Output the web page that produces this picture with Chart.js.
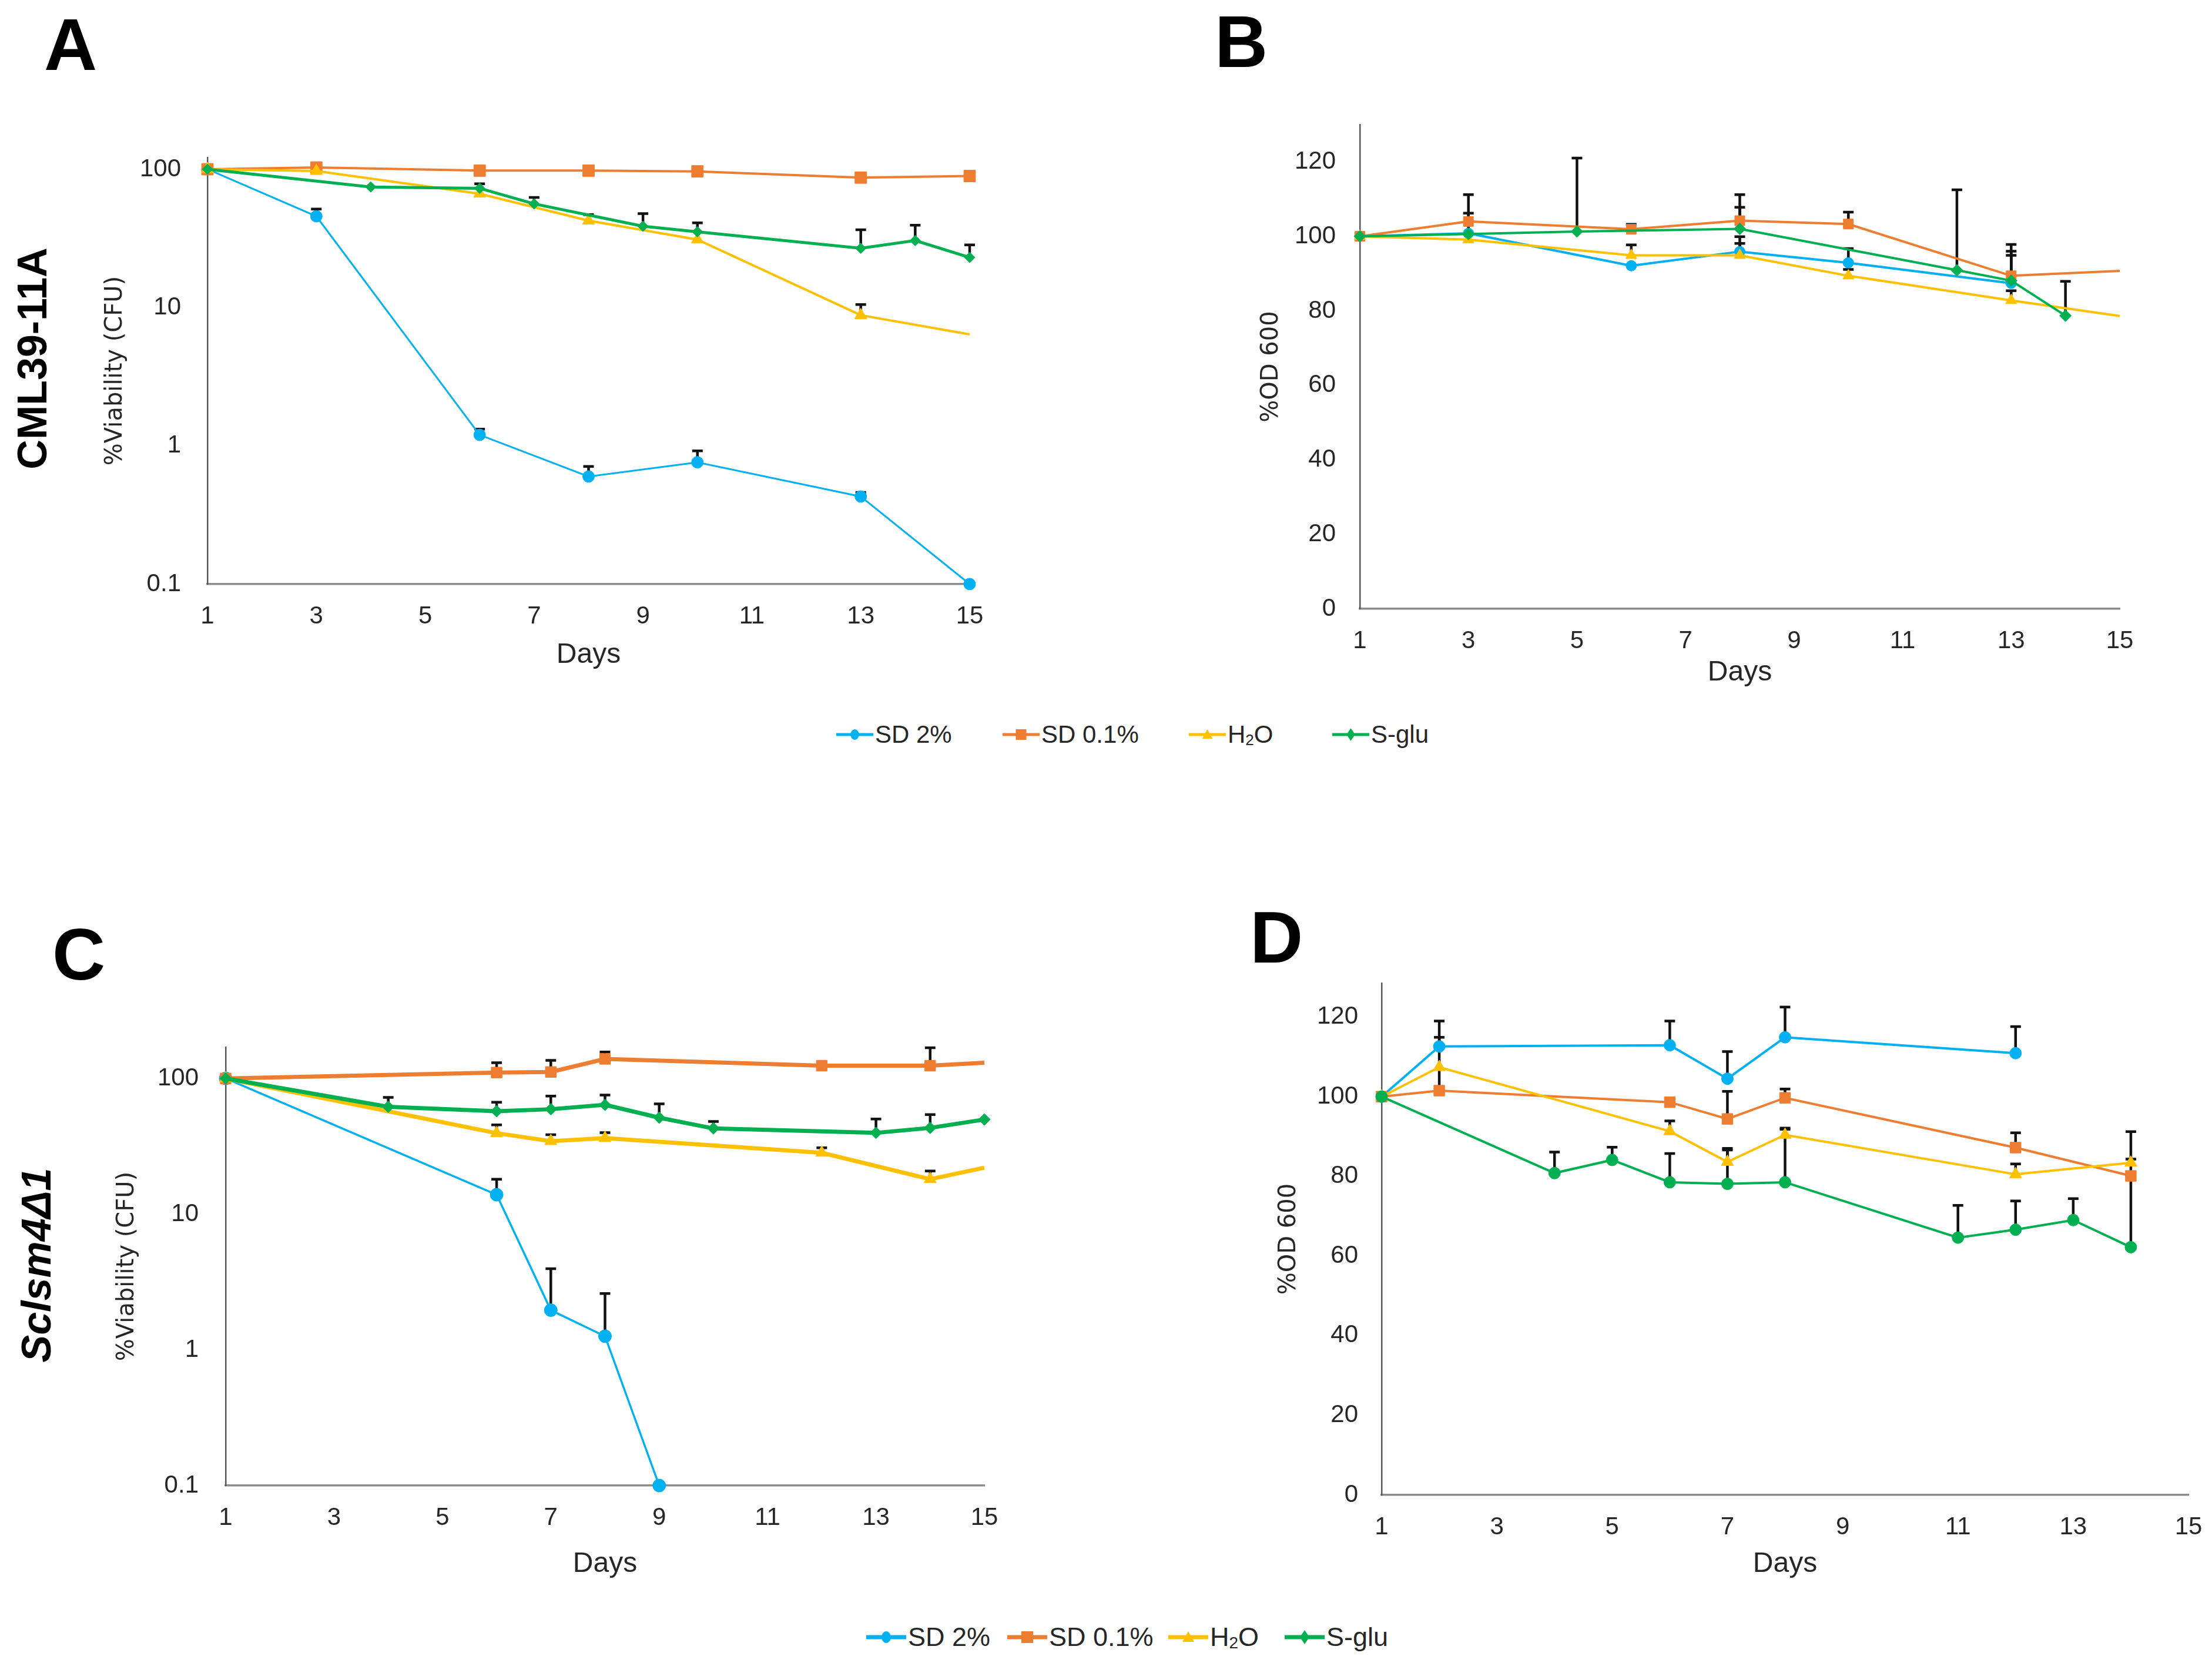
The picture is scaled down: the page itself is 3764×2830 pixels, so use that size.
<!DOCTYPE html>
<html lang="en">
<head>
<meta charset="UTF-8">
<title>Viability and OD600 over time</title>
<script src="https://cdn.jsdelivr.net/npm/chart.js@4.4.1/dist/chart.umd.min.js"></script>
<style>
  body {
    margin: 0;
    width: 3764px;
    height: 2830px;
    position: relative;
    overflow: hidden;
    background: #fff;
    color: #262626;
    font-family: 'Liberation Sans Narrow', 'Liberation Sans', Arial, sans-serif;
  }
  canvas { position: absolute; }
  .letter {
    position: absolute;
    font-family: 'Liberation Sans', Arial, sans-serif;
    font-weight: bold;
    font-size: 125px;
    line-height: 1;
    color: #000;
  }
  .rowlabel {
    position: absolute;
    font-family: 'Liberation Sans', Arial, sans-serif;
    font-weight: bold;
    font-size: 70px;
    line-height: 1;
    white-space: nowrap;
    color: #000;
    transform: translate(-50%, -50%) rotate(-90deg);
  }
  .legend-item {
    position: absolute;
    display: flex;
    align-items: center;
    white-space: nowrap;
  }
  .legend-item svg { display: block; }
  .legend-item span { margin-left: 3px; }
  sub { font-size: 62%; vertical-align: -0.15em; }
</style>
</head>
<body>

<div class="letter" style="left:75px; top:13px;">A</div>
<div class="letter" style="left:2067px; top:8px;">B</div>
<div class="letter" style="left:89px; top:1561px;">C</div>
<div class="letter" style="left:2127px; top:1532px;">D</div>

<div class="rowlabel" style="left:55px; top:610px;">CML39-11A</div>
<div class="rowlabel" style="left:62px; top:2153px; font-style:italic;">Sclsm4Δ1</div>

<div id="legends"></div>

<script>
// ---- axis ticks ----
const DAY_TICKS = [1, 3, 5, 7, 9, 11, 13, 15];
const LOG_TICKS = [0.1, 1, 10, 100];
const OD_TICKS = [0, 20, 40, 60, 80, 100, 120];
const LABELS = ['SD 2%', 'SD 0.1%', 'H₂O', 'S-glu'];

// ---- panel A: CML39-11A, %Viability (CFU) ----
const daysA_sd2 = [1, 3, 6, 8, 10, 13, 15];
const valsA_sd2 = [100, 45.7, 1.2, 0.6, 0.76, 0.43, 0.1];
const errA_sd2  = [0, 5.8, 0.12, 0.11, 0.16, 0.03, 0];
const daysA_sd01 = [1, 3, 6, 8, 10, 13, 15];
const valsA_sd01 = [100, 103, 97.7, 97.7, 96.5, 87, 89.3];
const errA_sd01  = [0, 0, 0, 0, 0, 0, 0];
const daysA_h2o = [1, 3, 6, 8, 10, 13, 15];
const valsA_h2o = [100, 97, 66.5, 42.5, 31, 8.8, 6.4];
const errA_h2o  = [0, 0, 0, 4.5, 0, 1.7, 0];
const daysA_sglu = [1, 4, 6, 7, 9, 10, 13, 14, 15];
const valsA_sglu = [100, 74.4, 72.8, 56.2, 38.7, 35.3, 26.8, 30.5, 23];
const errA_sglu  = [0, 0, 5.6, 6.3, 9.1, 5.6, 9.7, 8.9, 5.4];

// ---- panel B: CML39-11A, %OD 600 ----
const daysB_sd2 = [1, 3, 6, 8, 10, 13];
const valsB_sd2 = [100, 100.8, 92.1, 95.9, 92.9, 87.4];
const errB_sd2  = [0, 0, 0, 4.0, 3.8, 7.5];
const daysB_sd01 = [1, 3, 6, 8, 10, 13, 15];
const valsB_sd01 = [100, 104, 101.9, 104.2, 103.3, 89.4, 90.7];
const errB_sd01  = [0, 7.2, 1.3, 7.0, 3.2, 8.4, 0];
const daysB_h2o = [1, 3, 6, 8, 10, 13, 15];
const valsB_h2o = [100, 99.1, 94.9, 94.9, 89.4, 82.8, 78.6];
const errB_h2o  = [0, 0, 2.8, 3.2, 1.7, 2.6, 0];
const daysB_sglu = [1, 3, 5, 8, 12, 13, 14];
const valsB_sglu = [100, 100.6, 101.3, 102, 90.9, 88.1, 78.7];
const errB_sglu  = [0, 5.6, 19.7, 5.8, 21.6, 7.9, 9.2];

// ---- panel C: Sclsm4Δ1, %Viability (CFU) ----
const daysC_sd2 = [1, 6, 7, 8, 9];
const valsC_sd2 = [100, 13.9, 1.96, 1.26, 0.1];
const errC_sd2  = [0, 4.2, 2.0, 1.34, 0];
const daysC_sd01 = [1, 6, 7, 8, 12, 14, 15];
const valsC_sd01 = [100, 110.5, 111.6, 139.3, 124.2, 124.2, 130.4];
const errC_sd01  = [0, 19.9, 24.2, 17.3, 0, 44.3, 0];
const daysC_h2o = [1, 6, 7, 8, 12, 14, 15];
const valsC_h2o = [100, 39.5, 34.5, 36.3, 28.3, 18.1, 22.0];
const errC_h2o  = [0, 6.0, 4.0, 3.5, 2.5, 2.7, 0];
const daysC_sglu = [1, 4, 6, 7, 8, 9, 10, 13, 14, 15];
const valsC_sglu = [100, 61.8, 57.4, 59.3, 63.9, 51.4, 42.8, 39.7, 43.2, 49.8];
const errC_sglu  = [0, 10.7, 9.3, 14.9, 11.5, 13.5, 5.4, 10.6, 10.9, 0];

// ---- panel D: Sclsm4Δ1, %OD 600 ----
const daysD_sd2 = [1, 2, 6, 7, 8, 12];
const valsD_sd2 = [100, 112.6, 112.9, 104.5, 114.9, 110.9];
const errD_sd2  = [0, 6.4, 6.1, 6.8, 7.6, 6.7];
const daysD_sd01 = [1, 2, 6, 7, 8, 12, 14];
const valsD_sd01 = [100, 101.5, 98.6, 94.4, 99.7, 87.2, 80.1];
const errD_sd01  = [0, 13.4, 0, 6.9, 2.2, 3.7, 0];
const daysD_h2o = [1, 2, 6, 7, 8, 12, 14];
const valsD_h2o = [100, 107.4, 91.3, 83.6, 90.4, 80.5, 83.4];
const errD_h2o  = [0, 0, 2.6, 3.4, 1.7, 2.6, 0.9];
const daysD_sglu = [1, 4, 5, 6, 7, 8, 11, 12, 13, 14];
const valsD_sglu = [100, 80.8, 84.1, 78.5, 78.1, 78.5, 64.6, 66.6, 69.0, 62.2];
const errD_sglu  = [0, 5.3, 3.2, 7.2, 8.5, 13.3, 8.1, 7.2, 5.4, 29.0];

const BLUE = '#00B0F0', ORANGE = '#ED7D31', YELLOW = '#FFC000', GREEN = '#00B050';
const TICK_FONT = "'Liberation Sans Narrow', 'Liberation Sans', Arial, sans-serif";
const TITLE_FONT = "'DejaVu Sans', Verdana, sans-serif";

// upward-only black error bars, drawn under the lines and markers
const errorBars = {
  id: 'errorBars',
  beforeDatasetsDraw(chart) {
    const { ctx } = chart;
    const xs = chart.scales.x, ys = chart.scales.y;
    ctx.save();
    ctx.strokeStyle = '#111';
    ctx.lineWidth = 4.5;
    chart.data.datasets.forEach(ds => {
      ds.data.forEach((p, i) => {
        const e = ds.errors[i];
        if (!e) return;
        const px = xs.getPixelForValue(p.x);
        const y0 = ys.getPixelForValue(p.y);
        const y1 = ys.getPixelForValue(p.y + e);
        ctx.beginPath();
        ctx.moveTo(px, y0);
        ctx.lineTo(px, y1);
        ctx.moveTo(px - 9, y1);
        ctx.lineTo(px + 9, y1);
        ctx.stroke();
      });
    });
    ctx.restore();
  }
};

function series(label, days, vals, errs, color, shape, radius, width, order, hideLast) {
  const n = days.length;
  return {
    label: label,
    data: days.map((d, i) => ({ x: d, y: vals[i] })),
    errors: errs,
    order: order,
    borderColor: color,
    backgroundColor: color,
    borderWidth: width,
    pointStyle: shape,
    pointBackgroundColor: color,
    pointBorderColor: color,
    pointBorderWidth: 1,
    pointRadius: ctx => (hideLast && ctx.dataIndex === n - 1) ? 0 : radius,
    tension: 0,
    fill: false,
    clip: false
  };
}

function makePanel(p) {
  // the tick padding is added to the label overhang, so keep generous room above and right
  const Y_W = 220, PAD_T = 80, PAD_R = 60;
  const canvas = document.createElement('canvas');
  const w = Y_W + (p.right - p.left) + PAD_R;
  const h = PAD_T + (p.bottom - p.top) + p.xH;
  canvas.width = w;
  canvas.height = h;
  canvas.style.left = (p.left - Y_W) + 'px';
  canvas.style.top = (p.top - PAD_T) + 'px';
  canvas.style.width = w + 'px';
  canvas.style.height = h + 'px';
  document.body.appendChild(canvas);

  new Chart(canvas, {
    type: 'line',
    data: { datasets: p.datasets },
    options: {
      responsive: false,
      animation: false,
      devicePixelRatio: 1,
      layout: { padding: { left: 0, top: PAD_T, right: PAD_R, bottom: 0 } },
      plugins: { legend: { display: false }, tooltip: { enabled: false } },
      scales: {
        x: {
          type: 'linear',
          min: 1,
          max: 15,
          afterBuildTicks: s => { s.ticks = DAY_TICKS.map(v => ({ value: v })); },
          afterFit: s => { s.height = p.xH; },
          grid: { display: false, drawTicks: false },
          border: { color: '#8c8c8c', width: 3.5 },
          ticks: { padding: 30, color: '#262626', font: { family: TICK_FONT, size: 42 } },
          title: {
            display: true, text: 'Days', color: '#262626',
            font: { family: TICK_FONT, size: 48 },
            padding: { top: 0, bottom: p.xPad }
          }
        },
        y: {
          type: p.log ? 'logarithmic' : 'linear',
          min: p.min,
          max: p.max,
          afterBuildTicks: s => { s.ticks = p.ticks.map(v => ({ value: v })); },
          afterFit: s => { s.width = Y_W; },
          grid: { display: false, drawTicks: false },
          border: { color: '#595959', width: 2.5 },
          ticks: {
            padding: p.tickPad, color: '#262626',
            font: { family: TICK_FONT, size: 42 },
            callback: v => String(v)
          },
          title: {
            display: true, text: p.yTitle, color: '#262626',
            font: { family: TITLE_FONT, size: 40 },
            padding: { top: p.yPad, bottom: 0 }
          }
        }
      }
    },
    plugins: [errorBars]
  });
}

makePanel({
  left: 353, right: 1650, top: 268, bottom: 994, xH: 150, xPad: 0,
  log: true, min: 0.1, max: 121.6, ticks: LOG_TICKS, tickPad: 45, yPad: 40,
  yTitle: '%Viability (CFU)',
  datasets: [
    series(LABELS[0], daysA_sd2, valsA_sd2, errA_sd2, BLUE, 'circle', 10, 3, 4, false),
    series(LABELS[1], daysA_sd01, valsA_sd01, errA_sd01, ORANGE, 'rect', 14, 4, 3, false),
    series(LABELS[2], daysA_h2o, valsA_h2o, errA_h2o, YELLOW, 'triangle', 12, 4, 2, true),
    series(LABELS[3], daysA_sglu, valsA_sglu, errA_sglu, GREEN, 'rectRot', 9, 5, 1, false)
  ]
});

makePanel({
  left: 2314, right: 3607, top: 212, bottom: 1036, xH: 150, xPad: 12,
  log: false, min: 0, max: 130, ticks: OD_TICKS, tickPad: 41, yPad: 46,
  yTitle: '%OD 600',
  datasets: [
    series(LABELS[0], daysB_sd2, valsB_sd2, errB_sd2, BLUE, 'circle', 9, 4, 4, false),
    series(LABELS[1], daysB_sd01, valsB_sd01, errB_sd01, ORANGE, 'rect', 12, 4, 3, true),
    series(LABELS[2], daysB_h2o, valsB_h2o, errB_h2o, YELLOW, 'triangle', 11, 4, 2, true),
    series(LABELS[3], daysB_sglu, valsB_sglu, errB_sglu, GREEN, 'rectRot', 10, 4, 1, false)
  ]
});

makePanel({
  left: 384, right: 1675, top: 1782, bottom: 2528, xH: 170, xPad: 7,
  log: true, min: 0.1, max: 170, ticks: LOG_TICKS, tickPad: 46, yPad: 29,
  yTitle: '%Viability (CFU)',
  datasets: [
    series(LABELS[0], daysC_sd2, valsC_sd2, errC_sd2, BLUE, 'circle', 11, 3.5, 4, false),
    series(LABELS[1], daysC_sd01, valsC_sd01, errC_sd01, ORANGE, 'rect', 13, 7, 3, true),
    series(LABELS[2], daysC_h2o, valsC_h2o, errC_h2o, YELLOW, 'triangle', 12, 7, 2, true),
    series(LABELS[3], daysC_sglu, valsC_sglu, errC_sglu, GREEN, 'rectRot', 10, 7, 1, false)
  ]
});

makePanel({
  left: 2351, right: 3724, top: 1673, bottom: 2544, xH: 150, xPad: 3,
  log: false, min: 0, max: 128.5, ticks: OD_TICKS, tickPad: 40, yPad: 39,
  yTitle: '%OD 600',
  datasets: [
    series(LABELS[0], daysD_sd2, valsD_sd2, errD_sd2, BLUE, 'circle', 10, 4, 4, false),
    series(LABELS[1], daysD_sd01, valsD_sd01, errD_sd01, ORANGE, 'rect', 13, 4, 3, false),
    series(LABELS[2], daysD_h2o, valsD_h2o, errD_h2o, YELLOW, 'triangle', 12, 4, 2, false),
    series(LABELS[3], daysD_sglu, valsD_sglu, errD_sglu, GREEN, 'circle', 10, 4, 1, false)
  ]
});

// ---- legends (HTML, one row under each pair of panels) ----
const LEGEND_COLORS = [BLUE, ORANGE, YELLOW, GREEN];
const LEGEND_SHAPES = ['circle', 'rect', 'triangle', 'diamond'];

function markerSvg(shape, color, len, lw, s) {
  const c = len / 2, m = 15;
  let mark;
  if (shape === 'circle') mark = `<ellipse cx="${c}" cy="${m}" rx="${s * 0.8}" ry="${s}" fill="${color}"/>`;
  else if (shape === 'rect') mark = `<rect x="${c - s}" y="${m - s}" width="${2 * s}" height="${2 * s}" fill="${color}"/>`;
  else if (shape === 'triangle') mark = `<polygon points="${c},${m - s} ${c + s},${m + s * 0.8} ${c - s},${m + s * 0.8}" fill="${color}"/>`;
  else mark = `<polygon points="${c},${m - s * 1.2} ${c + s * 0.8},${m} ${c},${m + s * 1.2} ${c - s * 0.8},${m}" fill="${color}"/>`;
  return `<svg width="${len}" height="30"><line x1="0" y1="${m}" x2="${len}" y2="${m}" stroke="${color}" stroke-width="${lw}"/>${mark}</svg>`;
}

function legendRow(cy, starts, len, fontSize, lw, s) {
  const host = document.getElementById('legends');
  LABELS.forEach((lab, i) => {
    const item = document.createElement('div');
    item.className = 'legend-item';
    item.style.left = starts[i] + 'px';
    item.style.top = (cy - fontSize * 0.6) + 'px';
    item.style.height = (fontSize * 1.2) + 'px';
    item.style.fontSize = fontSize + 'px';
    const text = lab === 'H₂O' ? 'H<sub>2</sub>O' : lab;
    item.innerHTML = markerSvg(LEGEND_SHAPES[i], LEGEND_COLORS[i], len, lw, s) + `<span>${text}</span>`;
    host.appendChild(item);
  });
}

legendRow(1250, [1423, 1706, 2023, 2267], 63, 42, 5, 9);
legendRow(2786, [1474, 1714, 1988, 2186], 68, 45, 7, 10);
</script>
</body>
</html>
